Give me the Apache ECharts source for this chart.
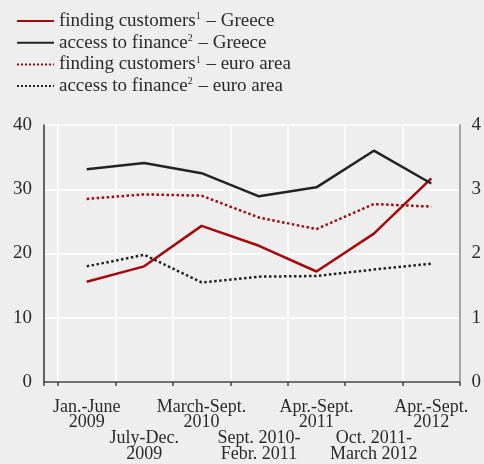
<!DOCTYPE html>
<html>
<head>
<meta charset="utf-8">
<script src="https://cdn.jsdelivr.net/npm/echarts@6/dist/echarts.min.js"></script>
<style>
  html, body { margin: 0; padding: 0; background: #eeeeee; }
  #main { width: 484px; height: 464px; }
</style>
</head>
<body>
<div id="main"></div>
<script>
var periods = ['Jan.-June\n2009', 'July-Dec.\n2009', 'March-Sept.\n2010', 'Sept. 2010-\nFebr. 2011',
               'Apr.-Sept.\n2011', 'Oct. 2011-\nMarch 2012', 'Apr.-Sept.\n2012'];

var custGreece = [15.6, 18.0, 24.3, 21.2, 17.2, 23.1, 31.7];
var finGreece  = [33.1, 34.1, 32.5, 28.9, 30.3, 36.0, 30.9];
var custEuro   = [28.5, 29.2, 29.0, 25.6, 23.8, 27.7, 27.3];
var finEuro    = [18.0, 19.8, 15.5, 16.4, 16.5, 17.5, 18.4];

var seriesNames = ['finding customers – Greece', 'access to finance – Greece',
                   'finding customers – euro area', 'access to finance – euro area'];
var legendBase = ['finding customers', 'access to finance', 'finding customers', 'access to finance'];
var legendSup  = ['1', '2', '1', '2'];
var legendTail = ['Greece', 'Greece', 'euro area', 'euro area'];

var leftTicks = [0, 40, 10];   // min, max, step
var rightTicks = [0, 4, 1];

var RED = '#a3080c';
var BLACK = '#222222';
var FONT = 'Liberation Serif';

var chart = echarts.init(document.getElementById('main'));

function makeSeries(i, data, color, type) {
  return {
    name: seriesNames[i],
    type: 'line',
    xAxisIndex: 1,
    yAxisIndex: 2,
    data: data,
    symbol: 'none',
    lineStyle: { color: color, width: 2.5, type: type },
    itemStyle: { color: color }
  };
}

var option = {
  backgroundColor: '#eeeeee',
  animation: false,
  legend: {
    orient: 'vertical',
    left: 11,
    top: 6,
    itemWidth: 37,
    itemHeight: 20,
    itemGap: 1.7,
    data: seriesNames,
    itemStyle: { opacity: 0 },
    textStyle: { fontFamily: FONT, fontSize: 19, color: '#2a2a2a', lineHeight: 20,
      rich: { sup: { fontFamily: FONT, fontSize: 10, color: '#2a2a2a', padding: [0, 1, 9, 0] } } },
    formatter: function (name) {
      var i = seriesNames.indexOf(name);
      return legendBase[i] + '{sup|' + legendSup[i] + '} – ' + legendTail[i];
    }
  },
  grid: [
    { left: 44, right: 23, top: 125, bottom: 82 },
    { left: 58, right: 24, top: 125, bottom: 82 }
  ],
  xAxis: [
    {
      gridIndex: 0, type: 'value', min: 0, max: 1, interval: 1, offset: 2,
      axisLine: { show: true, lineStyle: { color: '#444', width: 1.5 } },
      axisTick: { show: true, length: 4, lineStyle: { color: '#444', width: 1.5 } },
      axisLabel: { show: false },
      splitLine: { show: false }
    },
    {
      gridIndex: 1, type: 'category', data: periods, boundaryGap: true, offset: 2,
      axisLine: { show: false },
      axisTick: { show: true, length: 4, lineStyle: { color: '#444', width: 1.5 } },
      axisLabel: {
        interval: 0, margin: 15, fontFamily: FONT, fontSize: 18, color: '#2a2a2a', lineHeight: 15.8,
        formatter: function (v, i) { return i % 2 ? '\n\n' + v : v; }
      },
      splitLine: { show: true, lineStyle: { color: '#ffffff', width: 1.5 } }
    }
  ],
  yAxis: [
    {
      gridIndex: 0, type: 'value', position: 'left',
      min: leftTicks[0], max: leftTicks[1], interval: leftTicks[2],
      axisLine: { show: true, lineStyle: { color: '#333', width: 1.5 } },
      axisTick: { show: false },
      axisLabel: { margin: 12, fontFamily: FONT, fontSize: 19, color: '#2a2a2a' },
      splitLine: { show: true, lineStyle: { color: '#ffffff', width: 1.5 } }
    },
    {
      gridIndex: 0, type: 'value', position: 'right',
      min: rightTicks[0], max: rightTicks[1], interval: rightTicks[2],
      axisLine: { show: true, lineStyle: { color: '#888', width: 1.5 } },
      axisTick: { show: false },
      axisLabel: { margin: 12, fontFamily: FONT, fontSize: 19, color: '#2a2a2a' },
      splitLine: { show: false }
    },
    {
      gridIndex: 1, type: 'value', min: leftTicks[0], max: leftTicks[1], show: false,
      splitLine: { show: false }
    }
  ],
  series: [
    makeSeries(0, custGreece, RED, 'solid'),
    makeSeries(1, finGreece, BLACK, 'solid'),
    makeSeries(2, custEuro, RED, 'dotted'),
    makeSeries(3, finEuro, BLACK, 'dotted')
  ]
};

chart.setOption(option);
</script>
</body>
</html>
